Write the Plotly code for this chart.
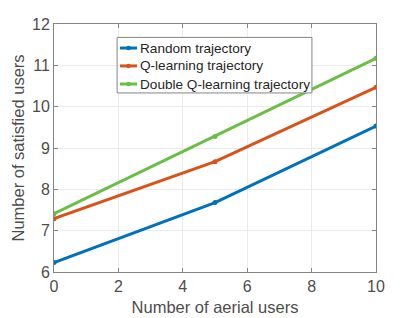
import plotly.graph_objects as go

x_users = [0, 5, 10]
random_traj = [6.23, 7.68, 9.53]
q_traj = [7.29, 8.67, 10.47]
dq_traj = [7.41, 9.28, 11.17]
names = ["Random trajectory", "Q-learning trajectory", "Double Q-learning trajectory"]
colors = ["#0072BD", "#D95319", "#6BBE45"]

fig = go.Figure()
for ys, nm, c in zip([random_traj, q_traj, dq_traj], names, colors):
    fig.add_trace(go.Scatter(x=x_users, y=ys, name=nm, mode="lines+markers",
                             line=dict(color=c, width=3),
                             marker=dict(color=c, size=5), showlegend=False))

font = "Liberation Sans, Arial, Helvetica, sans-serif"
axis_common = dict(showgrid=True, gridcolor="#EBEBEB", gridwidth=1,
                   showline=True, linecolor="#858585", linewidth=1, mirror="ticks",
                   ticks="inside", ticklen=4, tickcolor="#858585",
                   tickfont=dict(family=font, size=16, color="#4D4D4D"),
                   zeroline=False, automargin=False)

# manual legend (MATLAB style), positioned in paper coordinates
box = dict(x0=0.196, x1=0.801, y0=0.722, y1=0.946)
row_y = [0.903, 0.831, 0.758]
shapes = [dict(type="rect", xref="paper", yref="paper", **box,
               fillcolor="white", line=dict(color="#858585", width=1), layer="above")]
annotations = []
for nm, c, yy in zip(names, colors, row_y):
    shapes.append(dict(type="line", xref="paper", yref="paper", x0=0.205, x1=0.258,
                       y0=yy, y1=yy, line=dict(color=c, width=3), layer="above"))
    shapes.append(dict(type="circle", xref="paper", yref="paper",
                       x0=0.2315 - 0.007, x1=0.2315 + 0.007, y0=yy - 0.009, y1=yy + 0.009,
                       fillcolor=c, line=dict(color=c, width=0), layer="above"))
    annotations.append(dict(xref="paper", yref="paper", x=0.262, y=yy, text=nm,
                            showarrow=False, xanchor="left", yanchor="middle",
                            font=dict(family=font, size=13.6, color="#262626")))

fig.update_layout(
    width=415, height=318,
    margin=dict(l=54, r=39, t=24, b=46),
    paper_bgcolor="white", plot_bgcolor="white",
    font=dict(family=font, color="#4D4D4D"),
    xaxis=dict(range=[0, 10], dtick=2,
               title=dict(text="Number of aerial users", font=dict(size=16.5, color="#4D4D4D"), standoff=7),
               **axis_common),
    yaxis=dict(range=[6, 12], dtick=1,
               title=dict(text="Number of satisfied users", font=dict(size=16.5, color="#4D4D4D"), standoff=3),
               **axis_common),
    shapes=shapes, annotations=annotations,
    showlegend=False,
)
fig.write_html("out.html", config={"displayModeBar": False},
               post_script="document.body.style.margin='0px';document.body.style.overflow='hidden';")
